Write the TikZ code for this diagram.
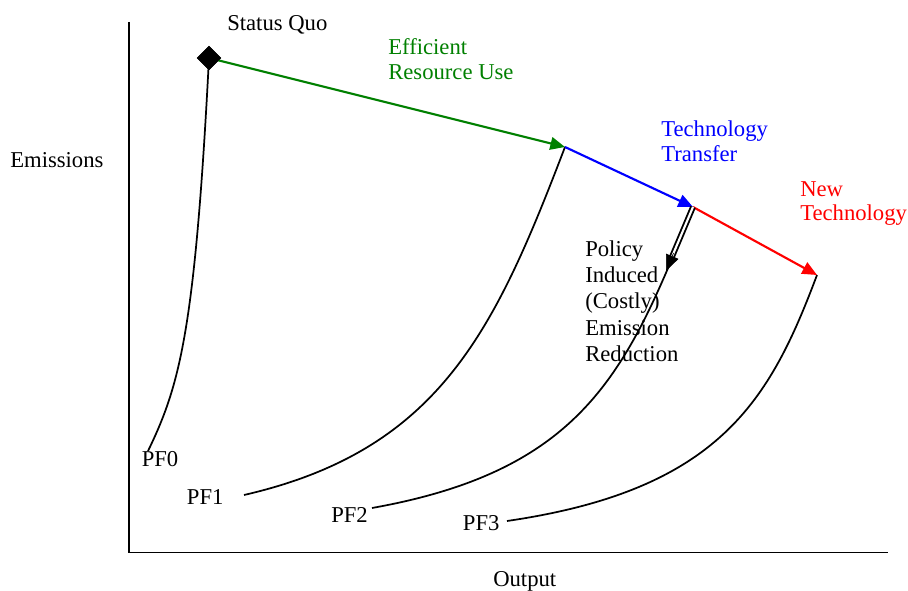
\documentclass[tikz,border=0pt]{standalone}
\usepackage{fontspec}
\setmainfont{Liberation Serif}
\usetikzlibrary{arrows.meta,shapes.geometric,calc}
\definecolor{pgreen}{RGB}{0,128,0}
\definecolor{pblue}{RGB}{0,0,255}
\definecolor{pred}{RGB}{255,0,0}
\newcommand{\mytopstrut}{\rule{0pt}{14pt}}
\begin{document}
\begin{tikzpicture}[x=0.75pt,y=-0.75pt,
  axis/.style={line width=1.4pt},
  pfcurve/.style={line width=1.3pt},
  movearrow/.style={line width=1.6pt,-{Triangle[length=11pt,width=9.5pt]}},
  lbl/.style={inner sep=0pt,font=\fontsize{17}{18.4}\selectfont,align=left,anchor=north west},
  onelbl/.style={inner sep=0pt,font=\fontsize{17}{18.4}\selectfont,anchor=base west},
  dbl/.style={double,double distance=1.6pt,line width=1.4pt}]
\useasboundingbox (0,0) rectangle (908,591);
\fill[white] (0,0) rectangle (908,591);

% axes
\coordinate (otop) at (129,22);
\coordinate (orig) at (129,552.5);
\coordinate (oright) at (888,552.5);
\draw[axis] (otop) -- (orig) -- (oright);

% key points
\node[diamond,fill=black,inner sep=0pt,minimum width=18.5pt,minimum height=18.5pt] (sq) at (209,58) {};
\coordinate (p1) at (565,147);
\coordinate (p2) at (693,207);
\coordinate (p3) at (817,275);
\coordinate (e0) at (148,451);
\coordinate (e1) at (244,495);
\coordinate (e2) at (372,508);
\coordinate (e3) at (507,521);
\coordinate (pt) at (666,271);

% production frontiers
\draw[pfcurve] (sq.center) .. controls (195,330) and (180,385) .. (e0);
\draw[pfcurve] (p1) .. controls (495,330) and (440,450) .. (e1);
\draw[pfcurve] (p2) .. controls (628,370) and (585,470) .. (e2);
\draw[pfcurve] (p3) .. controls (770,400) and (720,490) .. (e3);

% movements
\draw[movearrow,pgreen] (sq.center) -- (p1);
\draw[movearrow,pblue] (p1) -- (p2);
\draw[movearrow,pred] (p2) -- (p3);

% policy induced double arrow
\draw[dbl] (p2) -- ($(p2)!0.8!(pt)$);
\draw[line width=0.5pt,-{Triangle[length=12pt,width=10pt]}] ($(p2)!0.72!(pt)$) -- (pt);

\node[diamond,fill=black,inner sep=0pt,minimum width=18.5pt,minimum height=18.5pt] at (sq.center) {};

% labels
\node[onelbl] (lsq) at (227,31) {Status Quo};
\node[lbl,text=pgreen] (leff) at (388,{54.3-18.67}) {\mytopstrut Efficient\\Resource Use};
\node[lbl,text=pblue] (ltt) at (661,{136.7-18.67}) {\mytopstrut Technology\\Transfer};
\node[lbl,text=pred] (lnt) at (800,{196-18.67}) {\mytopstrut New\\Technology};
\node[lbl,font=\fontsize{17}{19.7}\selectfont] (lpol) at (585,{256-18.67}) {\mytopstrut Policy\\Induced\\(Costly)\\Emission\\Reduction};
\node[onelbl] (lem) at (10,167.7) {Emissions};
\node[onelbl] (lout) at (493,587) {Output};
\node[onelbl] (l0) at (141.5,466.7) {PF0};
\node[onelbl] (l1) at (186.7,505) {PF1};
\node[onelbl] (l2) at (331,522.7) {PF2};
\node[onelbl] (l3) at (462.7,531) {PF3};
\end{tikzpicture}
\end{document}
